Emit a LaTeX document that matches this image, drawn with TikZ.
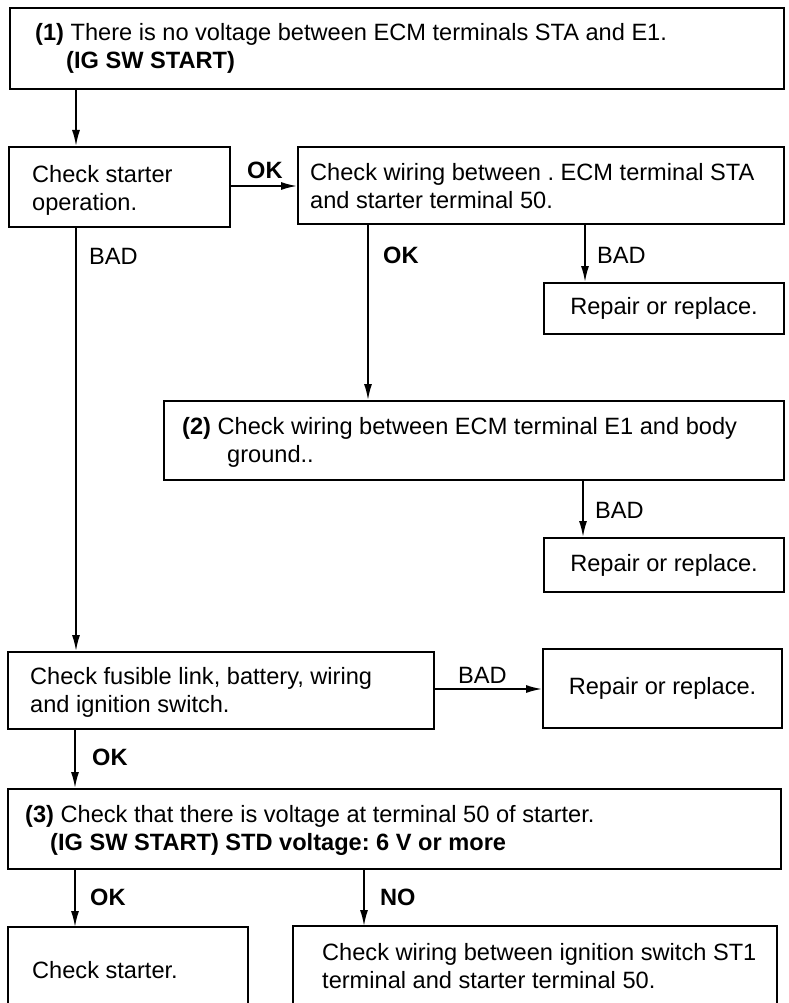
\documentclass[tikz,border=0pt]{standalone}
\usepackage{fontspec}
\setmainfont{Liberation Sans}
\usetikzlibrary{arrows.meta}
\frenchspacing
\begin{document}
\begin{tikzpicture}[x=1pt,y=-1pt,
  every node/.style={font=\fontsize{23.6}{28}\selectfont, inner sep=0pt},
  box/.style={draw, line width=2.1pt, anchor=north west, inner sep=0pt},
  openbox/.style={anchor=north west, inner sep=0pt},
  txt/.style={anchor=west, align=left},
  lbl/.style={anchor=west},
  arr/.style={line width=1.7pt, -{Latex[length=16pt,width=8pt]}}]
\useasboundingbox (0,0) rectangle (788,1003);
% boxes
\node[box, minimum width=774pt, minimum height=81pt] (b1) at (9,7) {};
\node[box, minimum width=221pt, minimum height=80pt] (b2) at (8,146) {};
\node[box, minimum width=486pt, minimum height=77pt] (b3) at (297,146) {};
\node[box, minimum width=240pt, minimum height=51pt] (r1) at (543,282) {Repair or replace.};
\node[box, minimum width=620pt, minimum height=79pt] (b4) at (163,400) {};
\node[box, minimum width=240pt, minimum height=54pt] (r2) at (543,537) {Repair or replace.};
\node[box, minimum width=426pt, minimum height=77pt] (b5) at (7,651) {};
\node[box, minimum width=239pt, minimum height=79pt] (r3) at (542,648) {Repair or replace.};
\node[box, minimum width=773pt, minimum height=80pt] (b6) at (7,788) {};
\node[openbox, minimum width=240pt, minimum height=90pt] (b7) at (8,927) {};
\node[openbox, minimum width=484pt, minimum height=90pt] (b8) at (293,926) {};
\draw[line width=2.1pt] (b7.south west) -- (b7.north west) -- (b7.north east) -- (b7.south east);
\draw[line width=2.1pt] (b8.south west) -- (b8.north west) -- (b8.north east) -- (b8.south east);
% texts
\node[txt] (t1) at (35,48.5) {\textbf{(1)} There is no voltage between ECM terminals STA and E1.\\\hspace*{31pt}\textbf{(IG SW START)}};
\node[txt] (t2) at (32,190) {Check starter\\operation.};
\node[txt] (t3) at (310,186.5) {Check wiring between . ECM terminal STA\\and starter terminal 50.};
\node[txt] (t4) at (182,442.5) {\textbf{(2)} Check wiring between ECM terminal E1 and body\\\hspace*{45pt}ground..};
\node[txt] (t5) at (30,692.5) {Check fusible link, battery, wiring\\and ignition switch.};
\node[txt] (t6) at (25,830.5) {\textbf{(3)} Check that there is voltage at terminal 50 of starter.\\\hspace*{25pt}\textbf{(IG SW START) STD voltage: 6 V or more}};
\node[txt] (t7) at (32,970) {Check starter.};
\node[txt] (t8) at (322,966.5) {Check wiring between ignition switch ST1\\terminal and starter terminal 50.};
% helper coordinates
\coordinate (xA) at (76,0);
\coordinate (xB) at (368,0);
\coordinate (xC) at (585,0);
\coordinate (xD) at (583,0);
\coordinate (xE) at (75,0);
\coordinate (xF) at (364,0);
\coordinate (yA) at (0,186);
\coordinate (yB) at (0,689);
% connectors
\draw[arr] (b1.south -| xA) -- (b2.north -| xA);
\draw[arr] (b2.east |- yA) -- (b3.west |- yA);
\draw[arr] (b2.south -| xA) -- (b5.north -| xA);
\draw[arr] (b3.south -| xB) -- (b4.north -| xB);
\draw[arr] (b3.south -| xC) -- (r1.north -| xC);
\draw[arr] (b4.south -| xD) -- (r2.north -| xD);
\draw[arr] (b5.east |- yB) -- (r3.west |- yB);
\draw[arr] (b5.south -| xE) -- (b6.north -| xE);
\draw[arr] (b6.south -| xE) -- (b7.north -| xE);
\draw[arr] (b6.south -| xF) -- (b8.north -| xF);
% labels
\node[lbl] (l1) at (247,170) {\textbf{OK}};
\node[lbl] (l2) at (89,256) {BAD};
\node[lbl] (l3) at (383,255) {\textbf{OK}};
\node[lbl] (l4) at (597,255) {BAD};
\node[lbl] (l5) at (595,510) {BAD};
\node[lbl] (l6) at (458,675) {BAD};
\node[lbl] (l7) at (92,757) {\textbf{OK}};
\node[lbl] (l8) at (90,897) {\textbf{OK}};
\node[lbl] (l9) at (380,897) {\textbf{NO}};
\end{tikzpicture}
\end{document}
